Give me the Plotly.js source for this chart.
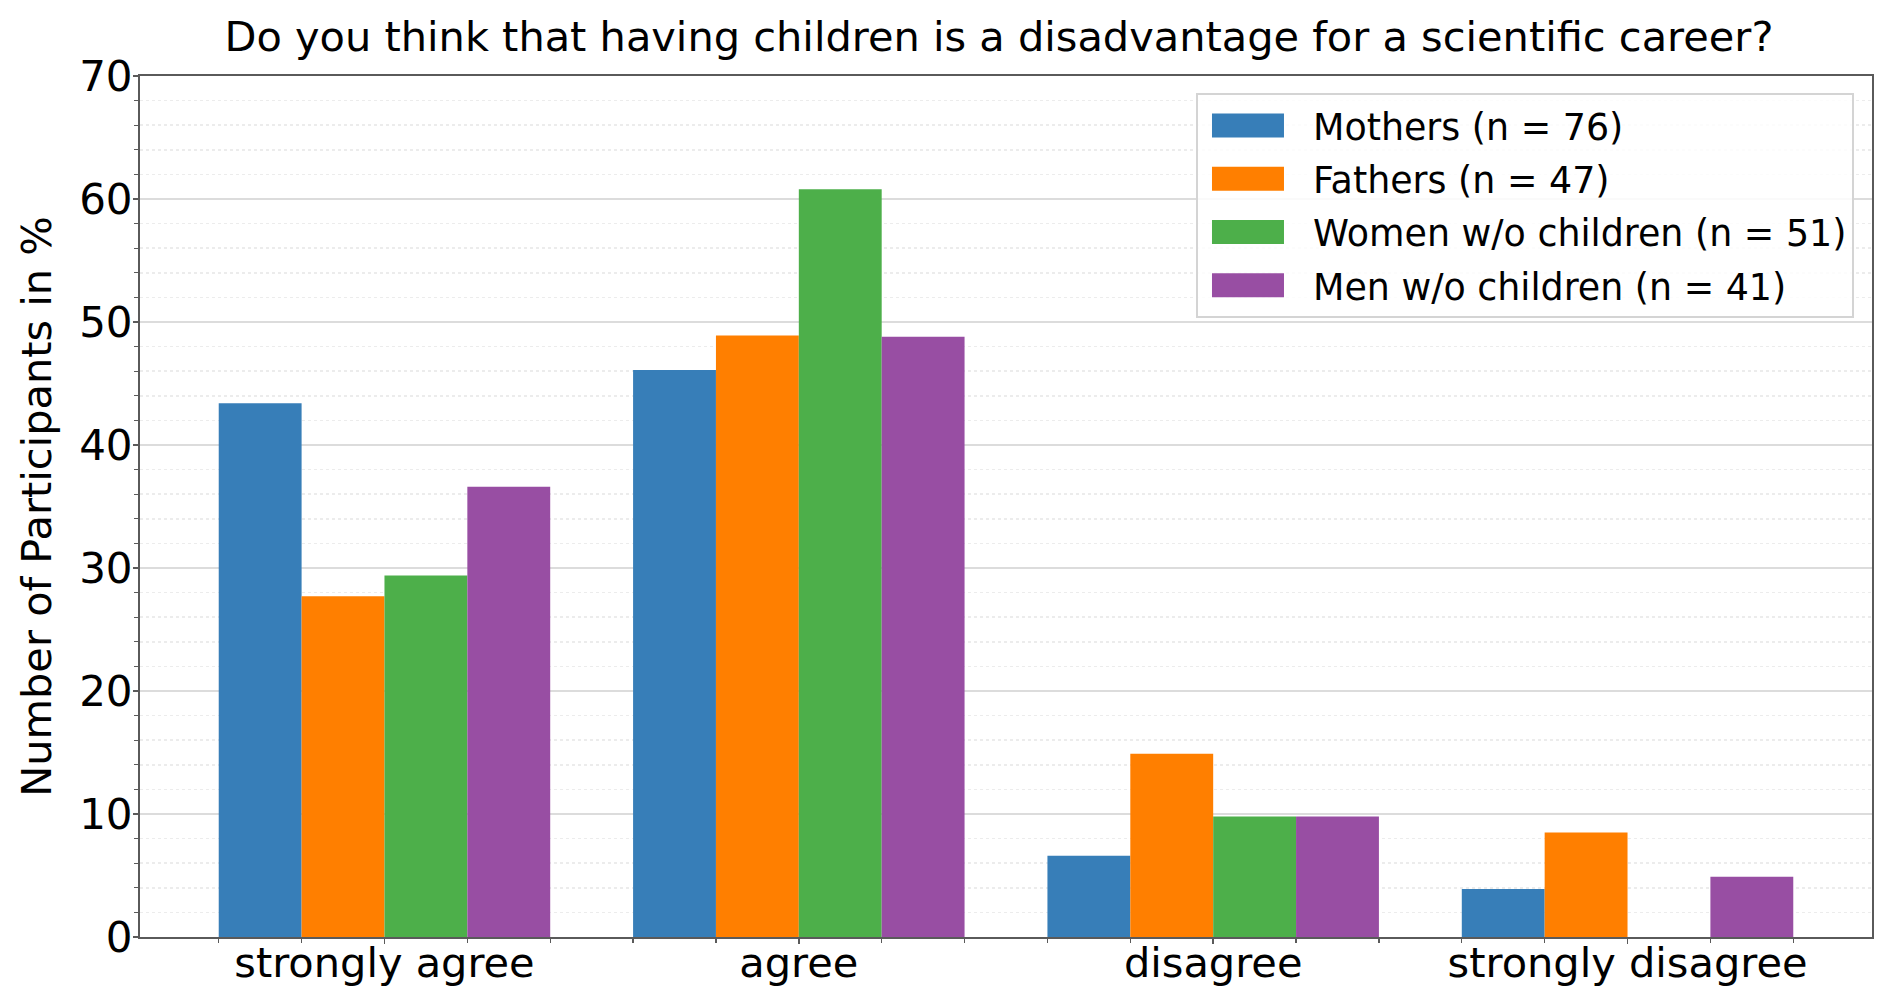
<!DOCTYPE html>
<html>
<head>
<meta charset="utf-8">
<script src="https://cdn.plot.ly/plotly-3.0.1.min.js"></script>
<style>
  html, body { margin: 0; padding: 0; background: #ffffff; }
  #chart { width: 1892px; height: 1003px; }
</style>
</head>
<body>
<div id="chart"></div>
<script>
const CATEGORIES = ["strongly agree", "agree", "disagree", "strongly disagree"];

const GROUP_NAMES = [
  "Mothers (n = 76)",
  "Fathers (n = 47)",
  "Women w/o children (n = 51)",
  "Men w/o children (n = 41)"
];
const GROUP_COLORS = ["#377eb8", "#ff7f00", "#4daf4a", "#984ea3"];

// percent of participants per answer
const MOTHERS = [43.4, 46.1, 6.6, 3.9];
const FATHERS = [27.7, 48.9, 14.9, 8.5];
const WOMEN_NO_CHILDREN = [29.4, 60.8, 9.8, 0];
const MEN_NO_CHILDREN = [36.6, 48.8, 9.8, 4.9];

const Y_TICKS = [0, 10, 20, 30, 40, 50, 60, 70];

const FONT = "DejaVu Sans, Liberation Sans, sans-serif";
const FONT_SIZE = 41.5;
const AXIS_COLOR = "#5a5a5a";

const drawChart = () => {
  const chartEl = document.getElementById("chart");
  const series = [MOTHERS, FATHERS, WOMEN_NO_CHILDREN, MEN_NO_CHILDREN];
  const xIndex = CATEGORIES.map((_, index) => index);

  const data = series.map((values, index) => ({
    type: "bar",
    name: GROUP_NAMES[index],
    legendgroup: "g" + index,
    x: xIndex,
    y: values,
    marker: { color: GROUP_COLORS[index], line: { width: 0 } },
    hoverinfo: "skip"
  }));

  const layout = {
    width: 1892,
    height: 1003,
    margin: { t: 76, r: 20, b: 66, l: 140 },
    paper_bgcolor: "#ffffff",
    plot_bgcolor: "#ffffff",
    font: { family: FONT, size: FONT_SIZE, color: "#000000" },
    barmode: "group",
    bargap: 0.2,
    bargroupgap: 0,
    title: {
      text: "Do you think that having children is a disadvantage for a scientific career?",
      font: { family: FONT, size: FONT_SIZE, color: "#000000" },
      x: 0.528,
      xanchor: "center",
      y: 0.964,
      yanchor: "middle"
    },
    xaxis: {
      range: [-0.59, 3.59],
      tickmode: "array",
      tickvals: xIndex,
      ticktext: CATEGORIES,
      showgrid: false,
      zeroline: false,
      showline: true,
      mirror: true,
      linecolor: AXIS_COLOR,
      linewidth: 2,
      ticks: "outside",
      ticklen: 5,
      tickwidth: 1.5,
      tickcolor: AXIS_COLOR,
      ticklabelstandoff: -17,
      tickfont: { family: FONT, size: FONT_SIZE, color: "#000000" },
      minor: {
        tick0: 0,
        dtick: 0.2,
        ticks: "outside",
        ticklen: 4,
        tickwidth: 1.2,
        tickcolor: AXIS_COLOR,
        showgrid: false
      }
    },
    yaxis: {
      range: [0, 70],
      tickmode: "array",
      tickvals: Y_TICKS,
      showgrid: true,
      gridcolor: "#dcdcdc",
      gridwidth: 2,
      zeroline: false,
      showline: true,
      mirror: true,
      linecolor: AXIS_COLOR,
      linewidth: 2,
      ticks: "outside",
      ticklen: 5,
      tickwidth: 1.5,
      tickcolor: AXIS_COLOR,
      ticklabelstandoff: -8,
      tickfont: { family: FONT, size: 42, color: "#000000" },
      title: {
        text: "Number of Participants in %",
        font: { family: FONT, size: FONT_SIZE, color: "#000000" },
        standoff: 15
      },
      minor: {
        tick0: 0,
        dtick: 2,
        ticks: "outside",
        ticklen: 4,
        tickwidth: 1.2,
        tickcolor: AXIS_COLOR,
        showgrid: true,
        gridcolor: "#ececec",
        gridwidth: 1.5,
        griddash: "dot"
      }
    },
    legend: {
      x: 0.9896,
      xanchor: "right",
      y: 0.98,
      yanchor: "top",
      bgcolor: "rgba(255,255,255,0.85)",
      bordercolor: "#d4d4d4",
      borderwidth: 2,
      font: { family: FONT, size: 36.4, color: "#000000" },
      itemwidth: 105,
      tracegroupgap: 3,
      traceorder: "grouped"
    },
    showlegend: true
  };

  Plotly.newPlot(chartEl, data, layout, { displayModeBar: false, responsive: false, staticPlot: true })
    .then(() => {
      // wider legend swatches, like the matplotlib patches
      chartEl.querySelectorAll(".legendpoints path").forEach((path) => {
        path.setAttribute("d", "M28.5,12H-43.5V-12H28.5Z");
      });
    });
};

drawChart();
</script>
</body>
</html>
